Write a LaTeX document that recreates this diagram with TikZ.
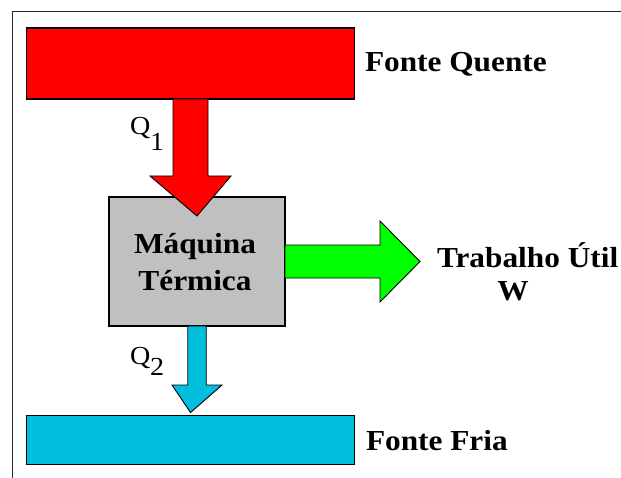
\documentclass[tikz,border=0pt]{standalone}
\usepackage{fontspec}
\setmainfont{Liberation Serif}[FakeStretch=1.08]
\usetikzlibrary{calc}
\definecolor{hotred}{RGB}{255,0,0}
\definecolor{machgray}{RGB}{192,192,192}
\definecolor{workgreen}{RGB}{0,255,0}
\definecolor{coldcyan}{RGB}{0,190,220}
\definecolor{framegray}{RGB}{40,40,40}
\tikzset{
  blockbox/.style={draw=black, line width=1.1bp, inner sep=0pt, outer sep=0pt},
  arrowshape/.style={draw=black, line width=0.9bp, line join=miter},
  bigtext/.style={font=\fontsize{29bp}{33bp}\selectfont\bfseries, inner sep=0pt, outer sep=0pt},
  qtext/.style={font=\fontsize{26bp}{30bp}\selectfont, inner sep=0pt, outer sep=0pt},
}
\begin{document}
\begin{tikzpicture}[x=1bp, y=-1bp]
\useasboundingbox (0,0) rectangle (621,478);
% frame
\coordinate (fbl) at (12.5,478);
\coordinate (ftl) at (12.5,11.5);
\coordinate (ftr) at (621,11.5);
\draw[framegray, line width=1.3bp] (fbl) -- (ftl) -- (ftr);

% blocks
\node[blockbox, fill=hotred, minimum width=328bp, minimum height=71bp] (hot) at (190.5,63.5) {};
\node[blockbox, fill=coldcyan, minimum width=328bp, minimum height=49bp] (cold) at (190.5,440) {};
\node[blockbox, fill=machgray, minimum width=176bp, minimum height=129bp] (engine) at (197,261.5) {};

% hot -> engine arrow (Q1)
\draw[arrowshape, fill=hotred]
  ($(hot.south)+(-17.5,0)$) -- ($(hot.south)+(17.5,0)$) -- ($(hot.south)+(17.5,77)$)
  -- ($(hot.south)+(40.5,77)$) -- ($(engine.north)+(0,19)$) -- ($(hot.south)+(-40.5,77)$)
  -- ($(hot.south)+(-17.5,77)$) -- cycle;

% engine -> work arrow
\coordinate (wtip) at (420,261.5);
\draw[arrowshape, fill=workgreen]
  ($(engine.east)+(0,-16.5)$) -- ($(engine.east)+(95,-16.5)$) -- ($(engine.east)+(95,-40.5)$)
  -- (wtip) -- ($(engine.east)+(95,40.5)$) -- ($(engine.east)+(95,16.5)$)
  -- ($(engine.east)+(0,16.5)$) -- cycle;

% engine -> cold arrow (Q2)
\draw[arrowshape, fill=coldcyan]
  ($(engine.south)+(-9.25,0)$) -- ($(engine.south)+(9.25,0)$) -- ($(engine.south)+(9.25,59)$)
  -- ($(engine.south)+(25,59)$) -- ($(cold.north)+(0,-3)$) -- ($(engine.south)+(-25,59)$)
  -- ($(engine.south)+(-9.25,59)$) -- cycle;

% labels
\node[bigtext, anchor=base west] (hotlbl) at (365,72) {Fonte Quente};
\node[bigtext, anchor=base west] (coldlbl) at (366,450) {Fonte Fria};
\node[bigtext, anchor=base] (eng1) at (195,253) {Máquina};
\node[bigtext, anchor=base] (eng2) at (195,290) {Térmica};
\node[bigtext, anchor=base west] (worklbl) at (437,267) {Trabalho Útil};
\node[bigtext, anchor=base] (wlbl) at (513,300) {W};

\node[qtext, anchor=base west] (q1) at (130,135) {Q};
\node[qtext, anchor=base west] (q1s) at (150,151) {1};
\node[qtext, anchor=base west] (q2) at (130,364) {Q};
\node[qtext, anchor=base west] (q2s) at (150,375) {2};
\end{tikzpicture}
\end{document}
